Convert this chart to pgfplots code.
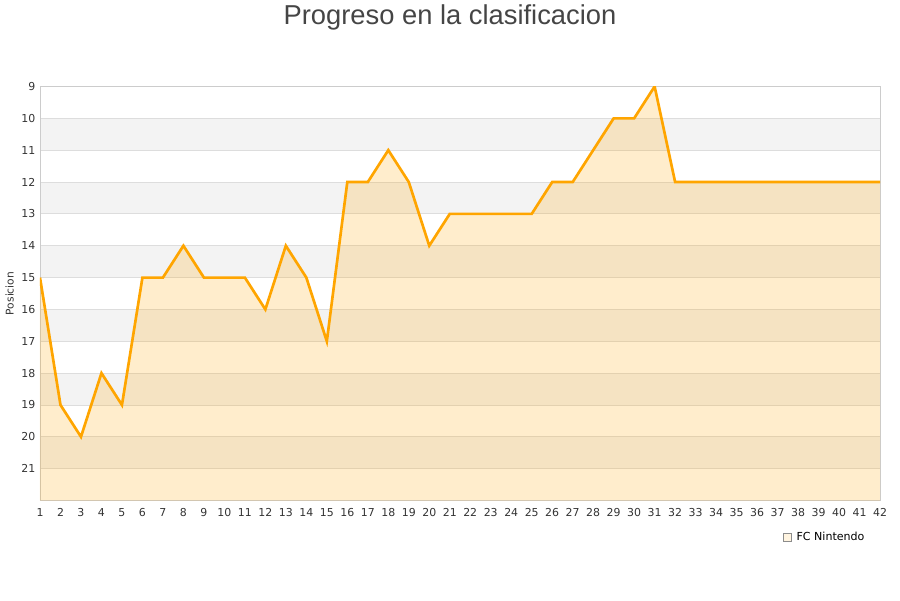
\documentclass[border=0pt]{standalone}
\usepackage{fontspec}
\setmainfont{DejaVu Sans}
\newfontfamily\titlefont{Liberation Sans}
\usepackage{pgfplots}
\pgfplotsset{compat=1.18}
\usepgfplotslibrary{fillbetween}
\definecolor{lineor}{HTML}{FFA500}
\definecolor{bandgray}{HTML}{F3F3F3}
\definecolor{gridc}{HTML}{DDDDDD}
\definecolor{txt}{HTML}{333333}
\begin{document}
\begin{tikzpicture}[x=1pt,y=1pt]
\begin{axis}[
  set layers,
  scale only axis, width=630pt, height=310.5pt,
  xmin=1, xmax=42, ymin=9, ymax=22, y dir=reverse,
  xtick={1,...,42}, ytick={9,...,21},
  major tick length=0pt,
  axis line style={draw=black!20},
  ymajorgrids, grid style={draw=gridc, line width=0.6pt},
  tick label style={font=\fontsize{8.2}{10}\selectfont, text=txt},
  xticklabel style={yshift=-2.5pt},
  /pgf/number format/assume math mode=true,
  ylabel={Posicion},
  ylabel style={font=\fontsize{8}{10}\selectfont, text=txt, at={(axis description cs:-0.036,0.5)}, anchor=center},
  legend style={at={(axis description cs:0.993,-0.089)}, anchor=east, draw=none, fill=none, font=\fontsize{8.3}{10}\selectfont,
    nodes={inner xsep=4pt}},
  legend image code/.code={\draw[draw=black!45, fill=lineor!12, line width=0.5pt] (-3pt,-2.8pt) rectangle (2.6pt,2.8pt);},
]
\begin{pgfonlayer}{axis background}
\pgfplotsinvokeforeach{10,12,...,20}{
  \fill[bandgray] (axis cs:1,#1) rectangle (axis cs:42,#1+1);
}
\end{pgfonlayer}
\addplot[line width=2pt, color=lineor, name path=pos] coordinates {
(1,15) (2,19) (3,20) (4,18) (5,19) (6,15) (7,15) (8,14) (9,15) (10,15)
(11,15) (12,16) (13,14) (14,15) (15,17) (16,12) (17,12) (18,11) (19,12) (20,14)
(21,13) (22,13) (23,13) (24,13) (25,13) (26,12) (27,12) (28,11) (29,10) (30,10)
(31,9) (32,12) (33,12) (34,12) (35,12) (36,12) (37,12) (38,12) (39,12) (40,12)
(41,12) (42,12)};
\addlegendentry{FC Nintendo}
\addplot[draw=none, name path=base, forget plot] coordinates {(1,22) (42,22)};
\addplot[fill=lineor, fill opacity=0.2, forget plot] fill between[of=pos and base];
\end{axis}
\node[font=\titlefont\fontsize{20.5}{24}\selectfont, text=black!73] at (307.5pt,362.5pt) {Progreso en la clasificacion};
\useasboundingbox (-30pt,-75pt) rectangle (645pt,375pt);
\end{tikzpicture}
\end{document}
